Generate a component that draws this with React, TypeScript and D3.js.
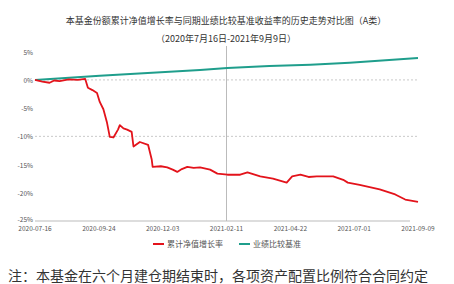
import * as d3 from "d3";

const navDates = [
  "2020-07-16", "2020-07-24", "2020-08-01", "2020-08-06", "2020-08-12", "2020-08-22", "2020-09-01", "2020-09-09",
  "2020-09-12", "2020-09-17", "2020-09-22", "2020-09-25", "2020-09-29", "2020-10-03", "2020-10-06", "2020-10-10",
  "2020-10-15", "2020-10-17", "2020-10-21", "2020-10-25", "2020-10-30", "2020-11-01", "2020-11-08", "2020-11-17",
  "2020-11-21", "2020-11-22", "2020-12-01", "2020-12-08", "2020-12-14", "2020-12-19", "2020-12-24", "2020-12-30",
  "2021-01-06", "2021-01-13", "2021-01-24", "2021-02-01", "2021-02-12", "2021-02-26", "2021-03-06", "2021-03-20",
  "2021-04-03", "2021-04-18", "2021-04-24", "2021-05-03", "2021-05-12", "2021-05-21", "2021-06-08", "2021-06-19",
  "2021-06-24", "2021-07-07", "2021-07-18", "2021-07-29", "2021-08-15", "2021-08-26", "2021-09-09",
];
const navValues = [
  0, -0.3, -0.5, -0.1, -0.2, 0.1, 0.0, 0.2,
  -1.4, -1.8, -2.3, -3.9, -5.2, -7.6, -10.1, -10.2,
  -8.8, -8.0, -8.6, -8.8, -9.2, -11.8, -11.0, -11.5,
  -14.1, -15.4, -15.3, -15.5, -15.9, -16.3, -15.8, -15.4,
  -15.6, -15.5, -15.9, -16.6, -16.8, -16.8, -16.4, -17.1,
  -17.5, -18.2, -17.1, -16.8, -17.2, -17.1, -17.1, -17.7,
  -18.2, -18.6, -19.0, -19.4, -20.3, -21.2, -21.6,
];

const benchDates = ["2020-07-16", "2020-09-25", "2021-01-13", "2021-02-12", "2021-03-30", "2021-05-14", "2021-06-26", "2021-09-09"];
const benchValues = [0, 0.76, 1.77, 2.1, 2.47, 2.7, 3.05, 3.9];

const yTicks = [5, 0, -5, -10, -15, -20, -25];
const gridTicks = [0, -10];
const xTickDates = ["2020-07-16", "2020-09-24", "2020-12-03", "2021-02-11", "2021-04-22", "2021-07-01", "2021-09-09"];
const markerDate = "2021-02-11";

const titleLines = [
  "本基金份额累计净值增长率与同期业绩比较基准收益率的历史走势对比图（A类）",
  "（2020年7月16日-2021年9月9日）",
];
const seriesNames = ["累计净值增长率", "业绩比较基准"];
const note = "注：本基金在六个月建仓期结束时，各项资产配置比例符合合同约定";

const parse = d3.timeParse("%Y-%m-%d");
const font = "'Noto Sans CJK SC', 'Noto Sans', sans-serif";

export default function App() {
  const width = 454;
  const height = 284;
  const margin = { left: 35, right: 36, top: 51.7, bottom: 63 };

  const x = d3
    .scaleTime()
    .domain([parse(xTickDates[0])!, parse(xTickDates[xTickDates.length - 1])!])
    .range([margin.left, width - margin.right]);
  const y = d3.scaleLinear().domain([5, -25]).range([margin.top, height - margin.bottom]);

  const line = d3
    .line<[string, number]>()
    .x((d) => x(parse(d[0])!))
    .y((d) => y(d[1]));

  const nav = navDates.map((d, i) => [d, navValues[i]] as [string, number]);
  const bench = benchDates.map((d, i) => [d, benchValues[i]] as [string, number]);
  const mx = x(parse(markerDate)!);

  return (
    <svg width={width} height={height} style={{ position: "absolute", left: 0, top: 0, fontFamily: font }}>
      <rect width={width} height={height} fill="#fff" />
      {titleLines.map((t, i) => (
        <text key={i} x={226} y={24 + i * 18} textAnchor="middle" fontSize={9} fill="#333">
          {t}
        </text>
      ))}
      {gridTicks.map((t) => (
        <line key={t} x1={margin.left} x2={width - margin.right} y1={y(t)} y2={y(t)} stroke="#bbb" strokeWidth={0.8} strokeDasharray="2,2" />
      ))}
      <line x1={mx} x2={mx} y1={46} y2={y(-25)} stroke="#aaa" strokeWidth={0.8} />
      <line x1={margin.left} x2={width - 44} y1={y(-25)} y2={y(-25)} stroke="#bbb" strokeWidth={1} />
      {yTicks.map((t) => (
        <text key={t} x={33} y={y(t) + (t === -25 ? 1 : 3)} textAnchor="end" fontSize={6.5} fill="#555">
          {t}%
        </text>
      ))}
      {xTickDates.map((d) => (
        <text key={d} x={x(parse(d)!)} y={231} textAnchor="middle" fontSize={6.5} fill="#555">
          {d}
        </text>
      ))}
      <path d={line(bench)!} fill="none" stroke="#1f9e8c" strokeWidth={2} />
      <path d={line(nav)!} fill="none" stroke="#e3131b" strokeWidth={1.8} strokeLinejoin="round" />
      <g fontSize={8} fill="#555">
        <line x1={153} x2={164} y1={244} y2={244} stroke="#e3131b" strokeWidth={2} />
        <text x={167} y={247}>{seriesNames[0]}</text>
        <line x1={239} x2={250} y1={244} y2={244} stroke="#1f9e8c" strokeWidth={2} />
        <text x={253} y={247}>{seriesNames[1]}</text>
      </g>
      <text x={8} y={281} fontSize={14} fill="#333">
        {note}
      </text>
    </svg>
  );
}
